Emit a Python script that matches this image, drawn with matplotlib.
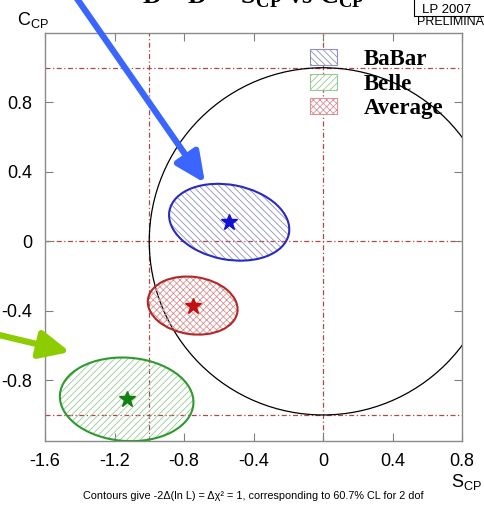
import numpy as np
import matplotlib
matplotlib.use('Agg')
import matplotlib.pyplot as plt
from matplotlib.patches import Ellipse, Circle, Patch

plt.rcParams['font.family'] = ['Liberation Sans', 'DejaVu Sans']
plt.rcParams['mathtext.fontset'] = 'custom'
plt.rcParams['mathtext.rm'] = 'Liberation Sans'
plt.rcParams['mathtext.it'] = 'Liberation Sans:italic'
plt.rcParams['mathtext.bf'] = 'Liberation Serif:bold'
plt.rcParams['hatch.linewidth'] = 0.6

# measurements: central values and 1-sigma (dchi2=1) contour ellipses
names = ['BaBar', 'Belle', 'Average']
s_cp = [-0.54, -1.13, -0.75]
c_cp = [0.11, -0.91, -0.37]
major = [0.70, 0.77, 0.52]      # full width along major axis
minor = [0.43, 0.48, 0.33]      # full width along minor axis
tilt = [-11, -4, -8]            # degrees
line_col = ['#2a2ac0', '#2e9a2e', '#b02828']
hatch_col = ['#9090b8', '#98c898', '#d89494']
hatches = ['\\' * 5, '/' * 5, 'x' * 5]
star_col = ['#1010d0', '#108010', '#c01010']

xticks = [-1.6, -1.2, -0.8, -0.4, 0, 0.4, 0.8]
xlabels = ['-1.6', '-1.2', '-0.8', '-0.4', '0', '0.4', '0.8']
yticks = [-0.8, -0.4, 0, 0.4, 0.8]
ylabels = ['-0.8', '-0.4', '0', '0.4', '0.8']

W, H = 485, 505
fig = plt.figure(figsize=(W / 100, H / 100), dpi=100)
ax = fig.add_axes([45 / W, 1 - 441 / H, (462 - 45) / W, (441 - 33) / H])
ax.set_xlim(-1.6, 0.8)
ax.set_ylim(-1.15, 1.2)

# reference lines and physical boundary
ref = dict(color='#b04848', lw=0.9, ls=(0, (4, 2, 1, 2)), zorder=1)
for y in [1, 0, -1]:
    ax.axhline(y, **ref)
for x in [-1, 0]:
    ax.axvline(x, **ref)
ax.add_patch(Circle((0, 0), 1, fill=False, ec='black', lw=0.9, zorder=2))

for i in range(len(names)):
    ax.add_patch(Ellipse((s_cp[i], c_cp[i]), major[i], minor[i], angle=tilt[i],
                         facecolor='none', edgecolor=hatch_col[i], lw=0,
                         hatch=hatches[i], zorder=3))
    ax.add_patch(Ellipse((s_cp[i], c_cp[i]), major[i], minor[i], angle=tilt[i],
                         facecolor='none', edgecolor=line_col[i], lw=1.5, zorder=4))
    ax.plot(s_cp[i], c_cp[i], marker='*', ms=12, color=star_col[i], mec=star_col[i], zorder=5)

ax.set_xticks(xticks, xlabels)
ax.set_yticks(yticks, ylabels)
ax.tick_params(direction='in', length=6, width=0.8, color='#808080', top=True, right=True,
               labelsize=13, pad=9)
for sp in ax.spines.values():
    sp.set_color('#8a8a8a')
    sp.set_linewidth(1.0)

handles = [Patch(facecolor='white', edgecolor=hatch_col[i], hatch=hatches[i], lw=0.8)
           for i in range(len(names))]
ax.legend(handles, names, loc='upper left', bbox_to_anchor=(310 / W, 1 - 49 / H),
          bbox_transform=fig.transFigure, frameon=False, borderpad=0, borderaxespad=0,
          handlelength=1.2, handleheight=0.68, handletextpad=1.15, labelspacing=0.16,
          prop={'family': 'Liberation Serif', 'weight': 'bold', 'size': 16.5})

# labels and annotations
fig.text(17 / W, 1 - 25 / H, r'C$_{\mathrm{CP}}$', fontsize=13, va='baseline')
fig.text(451 / W, 1 - 487 / H, r'S$_{\mathrm{CP}}$', fontsize=13, va='baseline')
fig.text(253 / W, 1 - 4 / H, r'$\mathbf{D^{*+}D^{*-}\ S_{CP}\ vs\ C_{CP}}$', fontsize=19,
         ha='center', va='baseline')
fig.text(447 / W, 1 - 13 / H, 'LP 2007', fontsize=9.5, ha='center', va='baseline')
fig.text(417 / W, 1 - 25 / H, 'PRELIMINARY', fontsize=9, va='baseline')
fig.add_artist(plt.Line2D([414 / W, 414 / W, 1.0], [1.0, 1 - 16 / H, 1 - 16 / H],
                          transform=fig.transFigure, color='black', lw=0.8))
fig.text(253 / W, 1 - 499 / H,
         'Contours give -2\u0394(ln L) = \u0394\u03c7\u00b2 = 1, corresponding to 60.7% CL for 2 dof',
         fontsize=7.8, ha='center', va='baseline')

ax.annotate('', xy=(205 / W, 1 - 183 / H), xytext=(71 / W, 1 + 10 / H),
            xycoords='figure fraction', textcoords='figure fraction',
            arrowprops=dict(arrowstyle='-|>,head_length=0.9,head_width=0.42', lw=4.5,
                            color='#3a66ff', mutation_scale=20, shrinkA=0, shrinkB=0),
            annotation_clip=False)
ax.annotate('', xy=(70 / W, 1 - 352 / H), xytext=(-5 / W, 1 - 334 / H),
            xycoords='figure fraction', textcoords='figure fraction',
            arrowprops=dict(arrowstyle='-|>,head_length=0.9,head_width=0.42', lw=4.5,
                            color='#8ccc00', mutation_scale=20, shrinkA=0, shrinkB=0),
            annotation_clip=False)

fig.savefig('out.png', dpi=100)
